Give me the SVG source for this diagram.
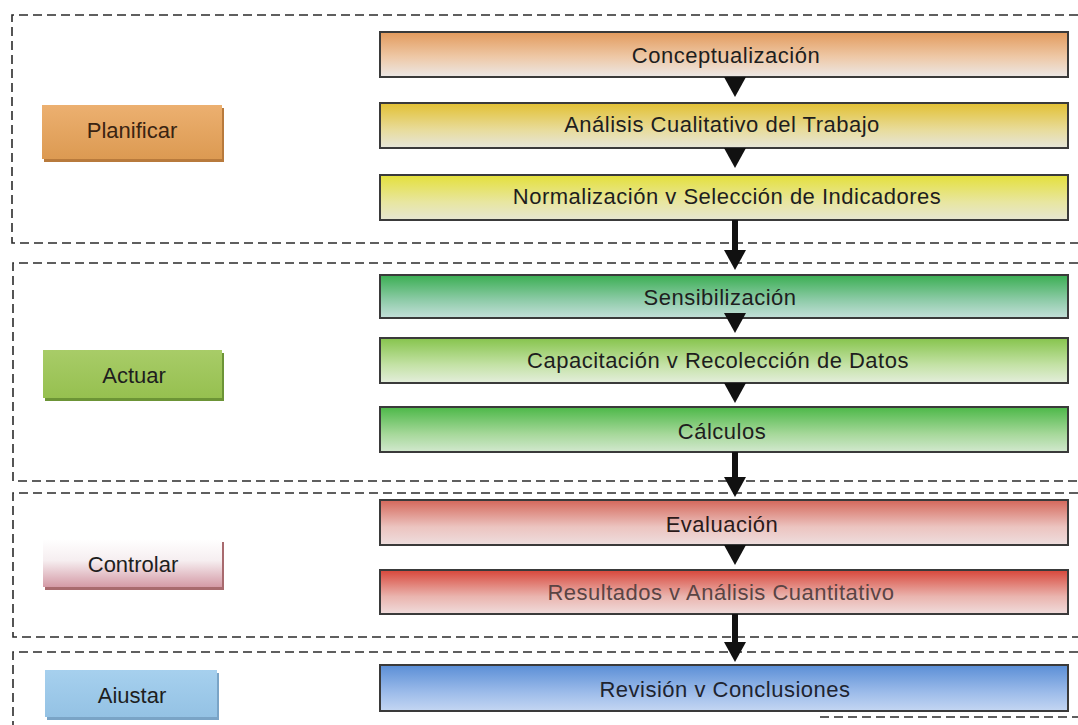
<svg xmlns="http://www.w3.org/2000/svg" width="1078" height="725" viewBox="0 0 1078 725">
  <style>
    .frame { fill: none; stroke: #2b2b2b; stroke-width: 1.6; stroke-dasharray: 9 5; }
    .step { stroke: #3a3a3a; stroke-width: 2; }
    .phase-shadow { stroke: none; }
    .phase { stroke: none; }
    .txt { font-family: "Liberation Sans", Arial, sans-serif; font-size: 22px; letter-spacing: 0.5px; fill: #1e1e1e; text-anchor: middle; }
    .lbl { font-family: "Liberation Sans", Arial, sans-serif; font-size: 22px; fill: #1e1e1e; text-anchor: middle; }
    .stem { stroke: #111; stroke-width: 6; fill: none; }
  </style>
  <defs>
    <marker id="head" viewBox="0 -11 20 22" refX="2" refY="0" markerWidth="20" markerHeight="22" markerUnits="userSpaceOnUse" orient="auto">
      <path d="M0,-11 L20,0 L0,11 z" fill="#111"/>
    </marker>
    <linearGradient id="gOrange" x1="0" y1="0" x2="0" y2="1">
      <stop offset="0" stop-color="#e29a5c"/>
      <stop offset="0.55" stop-color="#eec8a6"/>
      <stop offset="1" stop-color="#ece8e6"/>
    </linearGradient>
    <linearGradient id="gGold" x1="0" y1="0" x2="0" y2="1">
      <stop offset="0" stop-color="#e2c032"/>
      <stop offset="0.6" stop-color="#e8dc9c"/>
      <stop offset="1" stop-color="#e6e6da"/>
    </linearGradient>
    <linearGradient id="gYellow" x1="0" y1="0" x2="0" y2="1">
      <stop offset="0" stop-color="#e4e03a"/>
      <stop offset="0.6" stop-color="#e8e6a0"/>
      <stop offset="1" stop-color="#e6e6d2"/>
    </linearGradient>
    <linearGradient id="gTeal" x1="0" y1="0" x2="0" y2="1">
      <stop offset="0" stop-color="#3aae52"/>
      <stop offset="0.6" stop-color="#90ccaa"/>
      <stop offset="1" stop-color="#c4e0da"/>
    </linearGradient>
    <linearGradient id="gLime" x1="0" y1="0" x2="0" y2="1">
      <stop offset="0" stop-color="#86c44c"/>
      <stop offset="0.6" stop-color="#c4e2a6"/>
      <stop offset="1" stop-color="#e4eedc"/>
    </linearGradient>
    <linearGradient id="gGreen" x1="0" y1="0" x2="0" y2="1">
      <stop offset="0" stop-color="#4cb848"/>
      <stop offset="0.6" stop-color="#a6d89a"/>
      <stop offset="1" stop-color="#d2e8ce"/>
    </linearGradient>
    <linearGradient id="gRedSoft" x1="0" y1="0" x2="0" y2="1">
      <stop offset="0" stop-color="#d4675a"/>
      <stop offset="0.6" stop-color="#ecc4c0"/>
      <stop offset="1" stop-color="#eedede"/>
    </linearGradient>
    <linearGradient id="gRed" x1="0" y1="0" x2="0" y2="1">
      <stop offset="0" stop-color="#d8463a"/>
      <stop offset="0.6" stop-color="#eab4ae"/>
      <stop offset="1" stop-color="#f0dcdc"/>
    </linearGradient>
    <linearGradient id="gBlue" x1="0" y1="0" x2="0" y2="1">
      <stop offset="0" stop-color="#5a8ed6"/>
      <stop offset="0.6" stop-color="#9dbcea"/>
      <stop offset="1" stop-color="#c4d6f2"/>
    </linearGradient>
    <linearGradient id="pOrange" x1="0" y1="0" x2="0" y2="1">
      <stop offset="0" stop-color="#ecb070"/>
      <stop offset="1" stop-color="#dc9a52"/>
    </linearGradient>
    <linearGradient id="pGreen" x1="0" y1="0" x2="0" y2="1">
      <stop offset="0" stop-color="#a8cc68"/>
      <stop offset="1" stop-color="#96c050"/>
    </linearGradient>
    <linearGradient id="pPink" x1="0" y1="0" x2="0" y2="1">
      <stop offset="0" stop-color="#ffffff"/>
      <stop offset="0.45" stop-color="#f6eef0"/>
      <stop offset="1" stop-color="#d49aa6"/>
    </linearGradient>
    <linearGradient id="pBlue" x1="0" y1="0" x2="0" y2="1">
      <stop offset="0" stop-color="#a6d0ee"/>
      <stop offset="1" stop-color="#94c2e4"/>
    </linearGradient>
  </defs>

  <rect width="1078" height="725" fill="#ffffff"/>

  <!-- phase frames -->
  <g id="frames">
    <path class="frame" d="M1078,15 H12 V243 H1078"/>
    <path class="frame" d="M1078,263 H13 V481 H1078"/>
    <path class="frame" d="M1078,493 H13 V637 H1078"/>
    <path class="frame" d="M1078,652 H13 V725"/>
    <path class="frame" d="M820,717 H1078"/>
  </g>

  <!-- phase labels -->
  <g id="phase-planificar">
    <rect class="phase-shadow" x="44" y="108" width="180" height="54" fill="#b87a3c"/>
    <rect class="phase" x="42" y="105" width="180" height="54" fill="url(#pOrange)"/>
    <text class="lbl" x="132" y="138" style="fill:#3a2412">Planificar</text>
  </g>
  <g id="phase-actuar">
    <rect class="phase-shadow" x="45" y="353" width="179" height="48" fill="#6c9436"/>
    <rect class="phase" x="43" y="350" width="179" height="48" fill="url(#pGreen)"/>
    <text class="lbl" x="134" y="383">Actuar</text>
  </g>
  <g id="phase-controlar">
    <rect class="phase-shadow" x="45" y="542" width="179" height="48" fill="#a86a6e"/>
    <rect class="phase" x="43" y="539" width="179" height="48" fill="url(#pPink)"/>
    <text class="lbl" x="133" y="572">Controlar</text>
  </g>
  <g id="phase-ajustar">
    <rect class="phase-shadow" x="47" y="673" width="172" height="47" fill="#7aa4c6"/>
    <rect class="phase" x="45" y="670" width="172" height="47" fill="url(#pBlue)"/>
    <text class="lbl" x="132" y="703">Aiustar</text>
  </g>

  <!-- process steps -->
  <g id="step-conceptualizacion">
    <rect class="step" x="380" y="32" width="688" height="45" fill="url(#gOrange)"/>
    <text class="txt" x="726" y="63">Conceptualización</text>
  </g>
  <g id="step-analisis-cualitativo">
    <rect class="step" x="380" y="103" width="688" height="45" fill="url(#gGold)"/>
    <text class="txt" x="722" y="132">Análisis Cualitativo del Trabajo</text>
  </g>
  <g id="step-normalizacion">
    <rect class="step" x="380" y="175" width="688" height="45" fill="url(#gYellow)"/>
    <text class="txt" x="727" y="204">Normalización v Selección de Indicadores</text>
  </g>
  <g id="step-sensibilizacion">
    <rect class="step" x="380" y="275" width="688" height="43" fill="url(#gTeal)"/>
    <text class="txt" x="720" y="305">Sensibilización</text>
  </g>
  <g id="step-capacitacion">
    <rect class="step" x="380" y="338" width="688" height="45" fill="url(#gLime)"/>
    <text class="txt" x="718" y="368">Capacitación v Recolección de Datos</text>
  </g>
  <g id="step-calculos">
    <rect class="step" x="380" y="407" width="688" height="45" fill="url(#gGreen)"/>
    <text class="txt" x="722" y="439">Cálculos</text>
  </g>
  <g id="step-evaluacion">
    <rect class="step" x="380" y="500" width="688" height="45" fill="url(#gRedSoft)"/>
    <text class="txt" x="722" y="532" style="fill:#2a1a1a">Evaluación</text>
  </g>
  <g id="step-resultados">
    <rect class="step" x="380" y="570" width="688" height="44" fill="url(#gRed)"/>
    <text class="txt" x="721" y="600" style="fill:#5a4444">Resultados v  Análisis Cuantitativo</text>
  </g>
  <g id="step-revision">
    <rect class="step" x="380" y="665" width="688" height="46" fill="url(#gBlue)"/>
    <text class="txt" x="725" y="697" style="fill:#1e2430">Revisión v Conclusiones</text>
  </g>

  <!-- connectors -->
  <g id="connectors">
    <path class="stem" d="M735,78 V79" marker-end="url(#head)"/>
    <path class="stem" d="M735,149 V150" marker-end="url(#head)"/>
    <path class="stem" d="M735,220 V252" marker-end="url(#head)"/>
    <path class="stem" d="M735,314 V315" marker-end="url(#head)"/>
    <path class="stem" d="M735,384 V385" marker-end="url(#head)"/>
    <path class="stem" d="M735,452 V479" marker-end="url(#head)"/>
    <path class="stem" d="M735,546 V547" marker-end="url(#head)"/>
    <path class="stem" d="M735,614 V644" marker-end="url(#head)"/>
  </g>
</svg>
